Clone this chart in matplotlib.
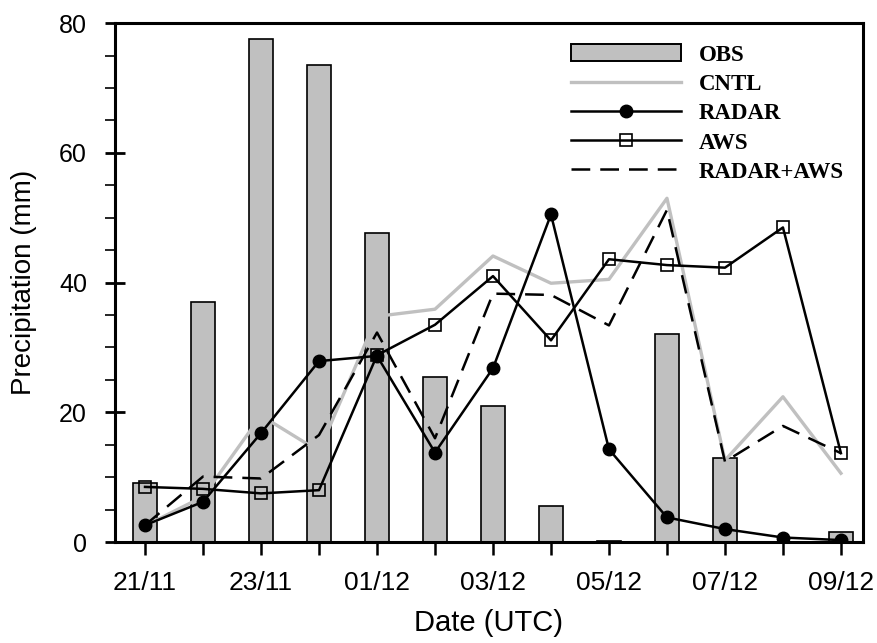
import numpy as np
import matplotlib
matplotlib.use("Agg")
import matplotlib.pyplot as plt
from matplotlib.patches import Patch
from matplotlib.lines import Line2D
from matplotlib.ticker import MultipleLocator

dates = ["21/11", "22/11", "23/11", "24/11", "01/12", "02/12", "03/12",
         "04/12", "05/12", "06/12", "07/12", "08/12", "09/12"]
obs = [9.1, 37.0, 77.5, 73.5, 47.6, 25.5, 21.0, 5.5, 0.2, 32.0, 13.0, 0.0, 1.6]
cntl = [2.5, 7.0, 19.5, 14.0, 34.8, 35.9, 44.1, 39.9, 40.5, 53.0, 12.6, 22.4, 10.6]
radar = [2.6, 6.2, 16.8, 27.9, 28.7, 13.8, 26.8, 50.5, 14.3, 3.8, 2.0, 0.7, 0.3]
aws = [8.5, 8.2, 7.5, 8.0, 28.8, 33.5, 41.0, 31.1, 43.6, 42.7, 42.3, 48.5, 13.7]
radar_aws = [2.6, 10.1, 9.8, 16.5, 32.3, 16.0, 38.3, 38.1, 33.4, 51.2, 12.4, 17.9, 13.7]

plt.rcParams['font.family'] = ['Liberation Sans', 'DejaVu Sans']

fig = plt.figure(figsize=(8.77, 6.43), dpi=100)
ax = fig.add_axes([0.131, 0.157, 0.853, 0.807])

x = np.arange(len(dates))
gray = "#c0c0c0"
lw = 1.8
dash = (7.5, 4)

ax.bar(x, obs, width=0.41, color=gray, edgecolor="black", linewidth=1.2, zorder=1)
ax.plot(x, cntl, color=gray, lw=2.4, zorder=2)
ax.plot(x, radar_aws, color="black", lw=lw, dashes=dash, zorder=3)
ax.plot(x, aws, color="black", lw=lw, marker="s", ms=8.5, mfc="none",
        mec="black", mew=1.2, zorder=4)
ax.plot(x, radar, color="black", lw=lw, marker="o", ms=9, mfc="black",
        mec="black", zorder=5)

ax.set_xlim(-0.52, 12.38)
ax.set_ylim(0, 80)

ax.set_xticks(x)
ax.set_xticklabels([d if i % 2 == 0 else "" for i, d in enumerate(dates)])
ax.yaxis.set_major_locator(MultipleLocator(20))
ax.yaxis.set_minor_locator(MultipleLocator(5))

for s in ax.spines.values():
    s.set_linewidth(2.2)

ax.tick_params(axis="x", direction="out", length=9, width=1.8, labelsize=19, pad=12)
ax.tick_params(axis="y", which="major", direction="inout", length=14, width=2.0,
               labelsize=18, pad=13)
ax.tick_params(axis="y", which="minor", direction="out", length=7, width=1.2)

ax.set_xlabel("Date (UTC)", fontsize=21, labelpad=10)
ax.set_ylabel("Precipitation (mm)", fontsize=20, labelpad=16)

handles = [
    Patch(facecolor=gray, edgecolor="black", linewidth=1.4),
    Line2D([], [], color=gray, lw=2.4),
    Line2D([], [], color="black", lw=lw, marker="o", ms=9, mfc="black"),
    Line2D([], [], color="black", lw=lw, marker="s", ms=8.5, mfc="none", mew=1.2),
    Line2D([], [], color="black", lw=lw, dashes=dash),
]
labels = ["OBS", "CNTL", "RADAR", "AWS", "RADAR+AWS"]
ax.legend(handles, labels, loc="upper left", bbox_to_anchor=(0.61, 0.96),
          frameon=False, handlelength=4.8, handleheight=0.8, handletextpad=0.75,
          labelspacing=0.33, borderpad=0, borderaxespad=0,
          prop={"family": "Liberation Serif", "weight": "bold", "size": 16.5})

fig.savefig("out.png", dpi=100)
